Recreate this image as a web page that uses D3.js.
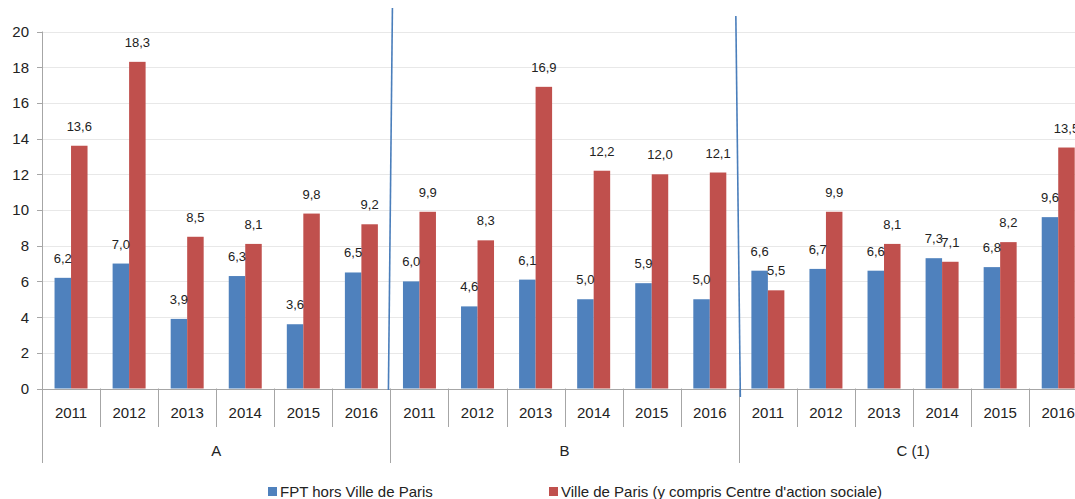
<!DOCTYPE html>
<html lang="fr">
<head>
<meta charset="utf-8">
<title>FPT / Ville de Paris</title>
<script src="https://cdn.jsdelivr.net/npm/d3@7"></script>
<style>
    body { margin: 0; background: #fff; }
    svg { display: block; font-family: "Liberation Sans", Arial, sans-serif; }
    .grid line { stroke: #e8e8e8; stroke-width: 1; }
    .axisline { stroke: #a6a6a6; stroke-width: 1; }
    .ytick { font-size: 15px; fill: #222; }
    .year { font-size: 15px; fill: #222; }
    .group { font-size: 15px; fill: #222; }
    .val { font-size: 13px; fill: #222; }
    .legend text { font-size: 15px; fill: #222; }
</style>
</head>
<body>
<script>
    // categories
    var groups = ['A', 'B', 'C (1)'];
    var years = ['2011', '2012', '2013', '2014', '2015', '2016'];
    var seriesNames = ['FPT hors Ville de Paris', "Ville de Paris (y compris Centre d'action sociale)"];
    var yTicks = [0, 2, 4, 6, 8, 10, 12, 14, 16, 18, 20];

    // values, one entry per group x year (A 2011..2016, B ..., C ...)
    var fptValues   = [6.2, 7.0, 3.9, 6.3, 3.6, 6.5,
                       6.0, 4.6, 6.1, 5.0, 5.9, 5.0,
                       6.6, 6.7, 6.6, 7.3, 6.8, 9.6];
    var villeValues = [13.6, 18.3, 8.5, 8.1, 9.8, 9.2,
                       9.9, 8.3, 16.9, 12.2, 12.0, 12.1,
                       5.5, 9.9, 8.1, 7.1, 8.2, 13.5];

    var colors = ['#4f81bd', '#c0504d'];

    var W = 1075, H = 499;
    var left = 42, step = 58.07, y0 = 388.5, y20 = 31.5;

    var cats = [];
    groups.forEach(function (g) {
        years.forEach(function (yr) { cats.push(g + '|' + yr); });
    });
    var rows = cats.map(function (c, i) {
        return {key: c, group: c.split('|')[0], year: c.split('|')[1],
                vals: [fptValues[i], villeValues[i]]};
    });

    var svg = d3.select('body').append('svg')
        .attr('width', W)
        .attr('height', H);

    var x0 = d3.scaleBand()
        .domain(cats)
        .range([left, left + cats.length * step])
        .padding(0);
    var x1 = d3.scaleBand()
        .domain([0, 1])
        .range([0, x0.bandwidth()])
        .paddingInner(0)
        .paddingOuter(0.76);
    var y = d3.scaleLinear()
        .domain([0, 20])
        .range([y0, y20]);

    // gridlines
    svg.append('g').attr('class', 'grid')
        .selectAll('line')
        .data(yTicks.filter(function (d) { return d > 0; }))
        .enter().append('line')
        .attr('x1', left).attr('x2', W)
        .attr('y1', function (d) { return Math.round(y(d)) + 0.5; })
        .attr('y2', function (d) { return Math.round(y(d)) + 0.5; });

    // y axis
    var yAxis = svg.append('g');
    yAxis.append('line').attr('class', 'axisline')
        .attr('x1', left + 0.5).attr('x2', left + 0.5)
        .attr('y1', y(20)).attr('y2', 463);
    yAxis.selectAll('line.tk')
        .data(yTicks).enter().append('line')
        .attr('class', 'axisline tk')
        .attr('x1', left - 5).attr('x2', left)
        .attr('y1', function (d) { return Math.round(y(d)) + 0.5; })
        .attr('y2', function (d) { return Math.round(y(d)) + 0.5; });
    yAxis.selectAll('text')
        .data(yTicks).enter().append('text')
        .attr('class', 'ytick')
        .attr('x', 29)
        .attr('y', function (d) { return y(d); })
        .attr('dy', '0.36em')
        .attr('text-anchor', 'end')
        .text(function (d) { return d; });

    // bars
    var cells = svg.append('g').selectAll('g.cell')
        .data(rows).enter().append('g')
        .attr('class', 'cell')
        .attr('transform', function (d) { return 'translate(' + x0(d.key) + ',0)'; });

    cells.selectAll('rect')
        .data(function (d) { return d.vals; })
        .enter().append('rect')
        .attr('x', function (d, i) { return x1(i); })
        .attr('width', x1.bandwidth())
        .attr('y', function (d) { return y(d); })
        .attr('height', function (d) { return y(0) - y(d); })
        .attr('fill', function (d, i) { return colors[i]; });

    cells.selectAll('text.val')
        .data(function (d) { return d.vals; })
        .enter().append('text')
        .attr('class', 'val')
        .attr('x', function (d, i) { return x1(i) + x1.bandwidth() / 2; })
        .attr('y', function (d) { return y(d) - 15; })
        .attr('text-anchor', 'middle')
        .text(function (d) { return d3.format('.1f')(d).replace('.', ','); });

    // x axis
    svg.append('line').attr('class', 'axisline')
        .attr('x1', left - 5).attr('x2', W)
        .attr('y1', Math.round(y0) + 0.5).attr('y2', Math.round(y0) + 0.5);

    svg.append('g').selectAll('line')
        .data(rows.slice(1)).enter().append('line')
        .attr('class', 'axisline')
        .attr('x1', function (d) { return Math.round(x0(d.key)) + 0.5; })
        .attr('x2', function (d) { return Math.round(x0(d.key)) + 0.5; })
        .attr('y1', y0)
        .attr('y2', function (d) { return d.year === years[0] ? 463 : 427; });

    svg.append('g').selectAll('text')
        .data(rows).enter().append('text')
        .attr('class', 'year')
        .attr('x', function (d) { return x0(d.key) + x0.bandwidth() / 2; })
        .attr('y', 413)
        .attr('dy', '0.36em')
        .attr('text-anchor', 'middle')
        .text(function (d) { return d.year; });

    svg.append('g').selectAll('text')
        .data(groups).enter().append('text')
        .attr('class', 'group')
        .attr('x', function (g) {
            return x0(g + '|' + years[0]) + years.length * step / 2;
        })
        .attr('y', 451)
        .attr('dy', '0.36em')
        .attr('text-anchor', 'middle')
        .text(function (g) { return g; });

    // hand drawn separators between groups
    var seps = [{g: 'B', dxTop: 2, yTop: 8, dxBot: -2, yBot: 390},
                {g: 'C (1)', dxTop: -3, yTop: 16, dxBot: 1.5, yBot: 397}];
    svg.append('g').selectAll('line')
        .data(seps).enter().append('line')
        .attr('x1', function (d) { return x0(d.g + '|' + years[0]) + d.dxTop; })
        .attr('y1', function (d) { return d.yTop; })
        .attr('x2', function (d) { return x0(d.g + '|' + years[0]) + d.dxBot; })
        .attr('y2', function (d) { return d.yBot; })
        .attr('stroke', '#4a7ebb')
        .attr('stroke-width', 1.6);

    // legend
    var legendX = [268, 549];
    var legend = svg.append('g').attr('class', 'legend')
        .selectAll('g').data(seriesNames).enter().append('g')
        .attr('transform', function (d, i) { return 'translate(' + legendX[i] + ',487)'; });
    legend.append('rect')
        .attr('width', 9).attr('height', 9)
        .attr('fill', function (d, i) { return colors[i]; });
    legend.append('text')
        .attr('x', 12).attr('y', 4.5)
        .attr('dy', '0.36em')
        .text(function (d) { return d; });
</script>
</body>
</html>
